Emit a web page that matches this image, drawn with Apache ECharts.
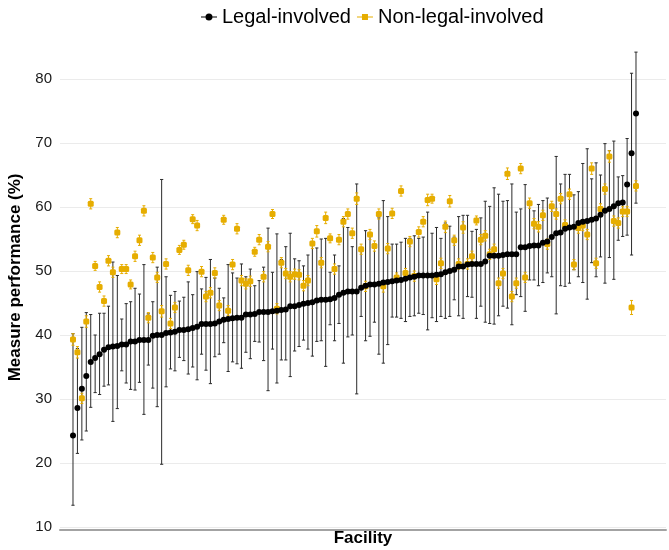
<!DOCTYPE html>
<html>
<head>
<meta charset="utf-8">
<script src="https://cdn.jsdelivr.net/npm/echarts@6/dist/echarts.min.js"></script>
<style>
  html, body { margin: 0; padding: 0; background: #fff; }
  #main { width: 669px; height: 550px; }
</style>
</head>
<body>
<div id="main"></div>
<script>
// facilities are sorted by legal-involved performance (%)
var legal = [24.3, 28.6, 31.6, 33.6, 35.8, 36.4, 37.0, 37.7, 38.1, 38.2, 38.3, 38.5, 38.5, 39.0, 39.0, 39.2,
  39.2, 39.2, 39.9, 40.0, 40.0, 40.3, 40.4, 40.5, 40.8, 40.8, 40.9, 41.1, 41.3, 41.7, 41.7, 41.7,
  41.8, 42.1, 42.4, 42.5, 42.6, 42.7, 42.7, 43.2, 43.2, 43.3, 43.6, 43.6, 43.6, 43.7, 43.8, 43.9,
  44.0, 44.5, 44.5, 44.7, 44.9, 45.0, 45.1, 45.4, 45.5, 45.5, 45.6, 45.8, 46.3, 46.6, 46.8, 46.8,
  46.8, 47.4, 47.7, 47.9, 47.9, 48.0, 48.2, 48.3, 48.4, 48.5, 48.6, 48.8, 49.0, 49.1, 49.3, 49.3,
  49.3, 49.3, 49.4, 49.5, 49.8, 50.0, 50.2, 50.7, 50.7, 51.0, 51.1, 51.1, 51.1, 51.5, 52.4, 52.4,
  52.4, 52.5, 52.6, 52.6, 52.6, 53.7, 53.7, 53.9, 54.0, 54.0, 54.4, 54.6, 55.3, 55.9, 56.0, 56.6,
  56.8, 56.9, 57.5, 57.7, 57.8, 58.0, 58.2, 58.8, 59.4, 59.7, 60.1, 60.6, 60.7, 63.5, 68.4, 74.6];
var legalLow = [13.4, 21.5, 23.6, 25.0, 28.7, 31.0, 30.7, 32.0, 32.2, 26.5, 28.5, 34.4, 32.5, 31.5, 31.4, 32.6,
  27.6, 35.3, 31.7, 28.8, 19.8, 31.9, 34.7, 34.4, 36.5, 36.0, 33.9, 35.0, 33.0, 37.0, 34.5, 32.4,
  36.6, 37.0, 38.8, 34.3, 35.8, 35.5, 34.8, 37.3, 36.3, 39.0, 38.9, 36.0, 31.3, 37.8, 32.5, 36.1,
  36.1, 33.5, 37.5, 38.2, 39.2, 37.8, 36.7, 39.0, 39.1, 35.1, 41.6, 39.1, 41.8, 35.6, 39.7, 40.0,
  30.8, 42.9, 39.1, 39.8, 42.0, 37.0, 35.6, 38.5, 42.8, 42.8, 42.6, 42.1, 42.9, 43.0, 43.4, 43.2,
  40.8, 42.7, 42.1, 42.9, 42.6, 42.9, 45.5, 43.0, 42.6, 46.0, 45.9, 42.6, 44.5, 42.0, 41.8, 41.7,
  43.0, 44.5, 44.2, 41.6, 46.3, 46.0, 43.7, 48.6, 48.6, 47.7, 48.2, 49.7, 49.1, 43.3, 47.7, 47.6,
  48.1, 50.2, 49.1, 48.2, 45.6, 51.3, 49.1, 52.2, 48.1, 52.1, 48.7, 54.8, 55.4, 55.6, 52.5, 60.6];
var legalHigh = [40.2, 37.9, 41.2, 43.5, 43.2, 40.0, 43.4, 43.4, 44.5, 51.4, 49.3, 42.5, 44.9, 45.2, 47.3, 46.4,
  51.0, 43.3, 45.2, 50.6, 64.3, 49.1, 46.2, 46.8, 45.3, 45.9, 48.3, 46.3, 49.9, 47.2, 49.0, 51.8,
  48.9, 47.3, 45.8, 51.0, 49.7, 48.9, 51.1, 49.1, 50.3, 47.7, 48.5, 50.6, 56.7, 49.8, 55.8, 51.8,
  53.8, 55.9, 51.9, 51.6, 50.8, 52.5, 54.2, 53.6, 55.0, 55.1, 49.8, 52.5, 50.8, 58.2, 56.8, 53.8,
  63.6, 53.4, 56.3, 55.5, 53.8, 58.3, 61.0, 58.5, 54.2, 54.2, 54.5, 55.1, 55.1, 55.5, 55.1, 55.3,
  59.2, 55.9, 56.8, 55.1, 57.5, 57.0, 55.3, 58.5, 58.7, 58.7, 56.2, 56.5, 58.3, 60.9, 60.1, 63.0,
  62.0, 60.9, 61.0, 63.6, 59.2, 59.7, 63.5, 60.4, 59.4, 60.4, 61.0, 61.4, 60.4, 67.9, 63.6, 65.1,
  65.1, 61.9, 62.4, 66.8, 69.1, 64.4, 66.9, 65.0, 69.9, 68.8, 70.3, 64.7, 64.9, 70.7, 80.9, 84.2];
var nonLegal = [39.3, 37.3, 30.1, 42.1, 60.5, 50.8, 47.5, 45.3, 51.6, 49.8, 56.0, 50.3, 50.3, 47.9, 52.3, 54.8,
  59.4, 42.7, 52.1, 49.0, 43.7, 51.1, 41.8, 44.3, 53.3, 54.1, 50.1, 58.1, 57.1, 49.9, 46.0, 46.6,
  49.7, 44.6, 58.0, 43.8, 51.0, 56.6, 48.5, 48.0, 48.4, 53.0, 54.9, 49.1, 53.8, 58.9, 44.1, 51.3,
  49.6, 49.1, 49.5, 49.4, 47.7, 48.5, 54.3, 56.2, 51.3, 58.3, 55.1, 50.3, 54.9, 57.7, 58.9, 55.9,
  61.3, 53.4, 47.6, 55.7, 53.9, 58.9, 47.6, 53.5, 59.0, 49.0, 62.5, 49.7, 54.6, 49.2, 56.1, 57.7,
  61.1, 61.3, 48.7, 51.2, 56.9, 60.9, 54.8, 51.1, 56.8, 51.1, 52.3, 57.9, 54.9, 55.5, 52.6, 53.4,
  48.1, 49.6, 65.2, 46.0, 48.1, 66.0, 49.0, 60.6, 57.4, 56.9, 58.7, 54.2, 60.1, 58.9, 61.3, 57.2,
  62.0, 51.0, 56.7, 57.1, 55.7, 66.0, 51.2, 59.7, 62.8, 67.9, 57.8, 57.5, 59.3, 59.3, 44.3, 63.3];
// half width of the (narrow) non-legal intervals
var nonLegalErr = [0.9, 0.9, 0.8, 0.9, 0.8, 0.7, 0.8, 0.8, 0.8, 0.8, 0.8, 0.7, 0.7, 0.7, 0.8, 0.8,
  0.8, 0.8, 0.8, 0.8, 0.9, 0.8, 0.8, 0.8, 0.7, 0.7, 0.8, 0.7, 0.8, 0.8, 0.8, 0.8,
  0.8, 0.8, 0.7, 0.8, 0.8, 0.8, 0.8, 0.8, 0.8, 0.7, 0.8, 0.8, 0.8, 0.7, 0.8, 0.8,
  0.8, 0.8, 0.8, 0.8, 0.8, 0.8, 0.8, 0.9, 0.8, 0.9, 0.7, 0.8, 0.8, 0.8, 0.8, 0.8,
  0.9, 0.8, 0.8, 0.8, 0.8, 0.8, 0.9, 0.8, 0.8, 0.7, 0.8, 0.7, 0.8, 0.8, 0.8, 0.8,
  0.9, 0.7, 0.8, 0.8, 0.9, 0.9, 0.8, 0.8, 0.9, 0.8, 0.8, 0.7, 0.8, 0.8, 0.8, 0.8,
  0.8, 0.8, 0.9, 0.8, 0.8, 0.8, 0.8, 0.8, 0.8, 0.8, 0.8, 0.8, 0.8, 0.8, 0.8, 0.8,
  0.8, 0.8, 0.8, 0.8, 0.8, 0.9, 0.8, 0.8, 0.8, 0.9, 0.8, 0.8, 0.8, 0.8, 1.1, 0.8];
var yTicks = [10, 20, 30, 40, 50, 60, 70, 80];
var seriesNames = ['Legal-involved', 'Non-legal-involved'];

var black = '#000000';
var barGrey = '#2b2b2b';
var yellow = '#E6AD00';
var font = 'Liberation Sans, Arial, sans-serif';

// facility position = its rank (1..n)
var legalPts = [], legalBars = [], nonPts = [], nonBars = [];
for (var i = 0; i < legal.length; i++) {
  legalPts.push([i + 1, legal[i]]);
  legalBars.push([i + 1, legalLow[i], legalHigh[i]]);
  nonPts.push([i + 1, nonLegal[i]]);
  nonBars.push([i + 1, nonLegal[i] - nonLegalErr[i], nonLegal[i] + nonLegalErr[i]]);
}

// vertical interval with small caps
function errorBar(color, capHalf) {
  return function (params, api) {
    var x = api.value(0);
    var lo = api.coord([x, api.value(1)]);
    var hi = api.coord([x, api.value(2)]);
    var st = { stroke: color, lineWidth: 1 };
    return {
      type: 'group',
      children: [
        { type: 'line', shape: { x1: lo[0], y1: lo[1], x2: hi[0], y2: hi[1] }, style: st },
        { type: 'line', shape: { x1: hi[0] - capHalf, y1: hi[1], x2: hi[0] + capHalf, y2: hi[1] }, style: st },
        { type: 'line', shape: { x1: lo[0] - capHalf, y1: lo[1], x2: lo[0] + capHalf, y2: lo[1] }, style: st }
      ]
    };
  };
}

var chart = echarts.init(document.getElementById('main'));
var option = {
  animation: false,
  backgroundColor: '#fff',
  textStyle: { fontFamily: font },
  legend: {
    left: 196,
    top: 2,
    itemWidth: 16,
    itemHeight: 7,
    itemGap: 6,
    textStyle: { fontSize: 20, color: '#000', fontFamily: font },
    data: [
      { name: seriesNames[0], icon: 'path://M0,6.4H16V7.6H0Z M8,3.5A3.5,3.5,0,1,1,7.99,3.5Z', itemStyle: { color: black } },
      { name: seriesNames[1], icon: 'path://M0,6.4H16V7.6H0Z M5,4H11V10H5Z M0,3.5H0.01V10.5H0Z', itemStyle: { color: yellow } }
    ]
  },
  grid: { left: 60, right: 3, top: 27.8, bottom: 23, outerBoundsMode: 'none' },
  xAxis: {
    type: 'value',
    min: -1.93,
    max: 134.77,
    offset: 3,
    name: 'Facility',
    nameLocation: 'middle',
    nameGap: 0,
    nameTextStyle: { fontSize: 17, fontWeight: 'bold', color: '#000', fontFamily: font },
    axisLine: { show: true, lineStyle: { color: '#a3a3a3', width: 2 } },
    axisTick: { show: false },
    axisLabel: { show: false },
    splitLine: { show: false }
  },
  yAxis: {
    type: 'value',
    min: 10,
    max: 88,
    interval: 10,
    name: 'Measure performance (%)',
    nameLocation: 'middle',
    nameGap: 36,
    nameTextStyle: { fontSize: 17, fontWeight: 'bold', color: '#000', fontFamily: font },
    axisLine: { show: false },
    axisTick: { show: false },
    axisLabel: {
      fontSize: 15,
      color: '#1a1a1a',
      margin: 8,
      fontFamily: font,
      formatter: function (v) { return yTicks.indexOf(v) >= 0 ? String(v) : ''; }
    },
    splitLine: { show: true, showMaxLine: false, lineStyle: { color: '#ebebeb', width: 1 } }
  },
  series: [
    {
      type: 'custom',
      name: 'legalBars',
      silent: true,
      renderItem: errorBar(barGrey, 1.6),
      encode: { x: 0, y: [1, 2] },
      data: legalBars,
      z: 1
    },
    {
      type: 'custom',
      name: 'nonBars',
      silent: true,
      renderItem: errorBar(yellow, 1.5),
      encode: { x: 0, y: [1, 2] },
      data: nonBars,
      z: 2
    },
    {
      type: 'scatter',
      name: seriesNames[1],
      symbol: 'roundRect',
      symbolSize: 6,
      itemStyle: { color: yellow, opacity: 1 },
      data: nonPts,
      z: 3
    },
    {
      type: 'scatter',
      name: seriesNames[0],
      symbol: 'circle',
      symbolSize: 6,
      itemStyle: { color: black, opacity: 1 },
      data: legalPts,
      z: 4
    }
  ]
};
chart.setOption(option);
</script>
</body>
</html>
